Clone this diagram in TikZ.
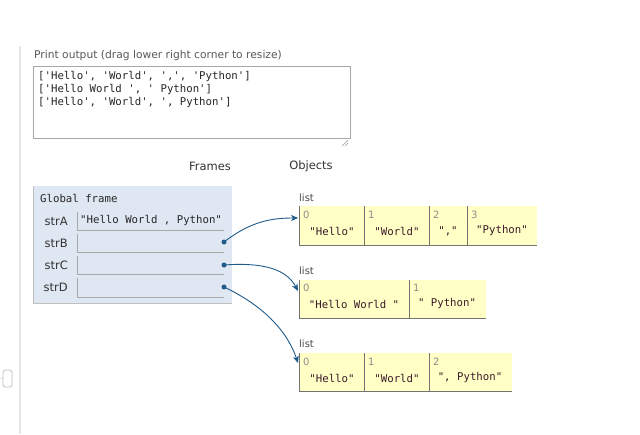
\documentclass[tikz,border=0pt]{standalone}
\usepackage{fontspec}
\setmainfont{DejaVu Sans}
\setmonofont{DejaVu Sans Mono}
\usetikzlibrary{arrows.meta}
\definecolor{framebg}{HTML}{DFE7F2}
\definecolor{heapbg}{HTML}{FFFFC6}
\definecolor{ptrcol}{HTML}{1F5C8C}
\definecolor{strcol}{HTML}{3C1A2A}
\definecolor{boxline}{HTML}{A8A8A8}
\begin{document}
\begin{tikzpicture}[x=1pt,y=-1pt,
  lbl/.style={inner sep=0pt, font=\fontsize{11.5}{13}\selectfont, text=black!80},
  hint/.style={inner sep=0pt, font=\fontsize{10.7}{13}\selectfont, text=black!65},
  mono/.style={inner sep=0pt, font=\ttfamily\fontsize{10.7}{12}\selectfont, text=black!85},
  strv/.style={mono, text=strcol},
  idx/.style={inner sep=0pt, font=\fontsize{10}{12}\selectfont, text=black!45},
  listlbl/.style={inner sep=0pt, font=\fontsize{10}{12}\selectfont, text=black!70},
  cellline/.style={draw=black!55, line width=0.8pt},
  valline/.style={draw=boxline, line width=0.8pt},
  ptr/.style={draw=ptrcol, line width=0.9pt, -{Stealth[length=7pt,width=6pt,inset=2pt]}},
  dot/.style={circle, fill=ptrcol, inner sep=0pt, minimum size=5pt}
]
\useasboundingbox (0,0) rectangle (640,434);
\fill[white] (0,0) rectangle (640,434);

% page decorations
\draw[black!10, line width=1.5pt] (20,46) -- (20,434);
\draw[black!10, line width=0.8pt] (0,378) -- (3,378);
\draw[black!25, line width=0.8pt, rounded corners=2.5pt] (3,370) rectangle (12,387);

% print output
\node[hint, anchor=west] (ptitle) at (34,56) {Print output (drag lower right corner to resize)};
\draw[boxline, fill=white, line width=0.8pt] (33,66) rectangle (350,138);
\draw[black!40, line width=0.6pt] (342,146) -- (348,140) (345,146) -- (348,143);
\node[mono, anchor=west] (out1) at (38,77) {['Hello', 'World', ',', 'Python']};
\node[mono, anchor=west] (out2) at (38,90) {['Hello World ', ' Python']};
\node[mono, anchor=west] (out3) at (38,103) {['Hello', 'World', ', Python']};

% headers
\node[lbl] (frames) at (210,166) {Frames};
\node[lbl] (objects) at (311,166) {Objects};

% global frame
\fill[framebg] (33,186) rectangle (232,303);
\draw[black!25, line width=0.8pt] (33,186) -- (33,303) -- (232,303);
\node[mono, anchor=west] (gf) at (40,198) {Global frame};

\node[lbl, anchor=east] (nA) at (68,221) {strA};
\node[lbl, anchor=east] (nB) at (68,243) {strB};
\node[lbl, anchor=east] (nC) at (68,265) {strC};
\node[lbl, anchor=east] (nD) at (68,287) {strD};

\draw[valline] (77,212) -- (77,230) -- (224,230);
\draw[valline] (77,234) -- (77,252) -- (224,252);
\draw[valline] (77,256) -- (77,274) -- (224,274);
\draw[valline] (77,278) -- (77,297) -- (224,297);

\node[mono, anchor=west] (vA) at (80,221) {"Hello World , Python"};
\node[dot] (dB) at (224,242) {};
\node[dot] (dC) at (224,265) {};
\node[dot] (dD) at (224,287) {};

% list 1
\node[listlbl, anchor=west] (ll1) at (299,198) {list};
\fill[heapbg] (299,206) rectangle (537,245);
\draw[cellline] (299,245) -- (537,245);
\foreach \x in {299,364,429,467} \draw[cellline] (\x,206) -- (\x,245);
\node[idx, anchor=west] (l1i0) at (303,215) {0};
\node[idx, anchor=west] (l1i1) at (368,215) {1};
\node[idx, anchor=west] (l1i2) at (433,215) {2};
\node[idx, anchor=west] (l1i3) at (471,215) {3};
\node[strv] (l1v0) at (332,231) {"Hello"};
\node[strv] (l1v1) at (397,231) {"World"};
\node[strv] (l1v2) at (448,231) {","};
\node[strv] (l1v3) at (502,231) {"Python"};
\coordinate (l1in) at (298,218);

% list 2
\node[listlbl, anchor=west] (ll2) at (299,271) {list};
\fill[heapbg] (299,280) rectangle (486,318);
\draw[cellline] (299,318) -- (486,318);
\foreach \x in {299,409} \draw[cellline] (\x,280) -- (\x,318);
\node[idx, anchor=west] (l2i0) at (303,288) {0};
\node[idx, anchor=west] (l2i1) at (413,288) {1};
\node[strv] (l2v0) at (354,304) {"Hello World "};
\node[strv] (l2v1) at (447,304) {" Python"};
\coordinate (l2in) at (298,291);

% list 3
\node[listlbl, anchor=west] (ll3) at (299,344) {list};
\fill[heapbg] (299,353) rectangle (512,391);
\draw[cellline] (299,391) -- (512,391);
\foreach \x in {299,364,429} \draw[cellline] (\x,353) -- (\x,391);
\node[idx, anchor=west] (l3i0) at (303,362) {0};
\node[idx, anchor=west] (l3i1) at (368,362) {1};
\node[idx, anchor=west] (l3i2) at (433,362) {2};
\node[strv] (l3v0) at (332,378) {"Hello"};
\node[strv] (l3v1) at (397,378) {"World"};
\node[strv] (l3v2) at (470,378) {", Python"};
\coordinate (l3in) at (298,363);

% pointers
\draw[ptr] (dB.center) .. controls (250,222) and (270,218) .. (l1in);
\draw[ptr] (dC.center) .. controls (265,262) and (287,270) .. (l2in);
\draw[ptr] (dD.center) .. controls (262,305) and (287,330) .. (l3in);
\end{tikzpicture}
\end{document}
